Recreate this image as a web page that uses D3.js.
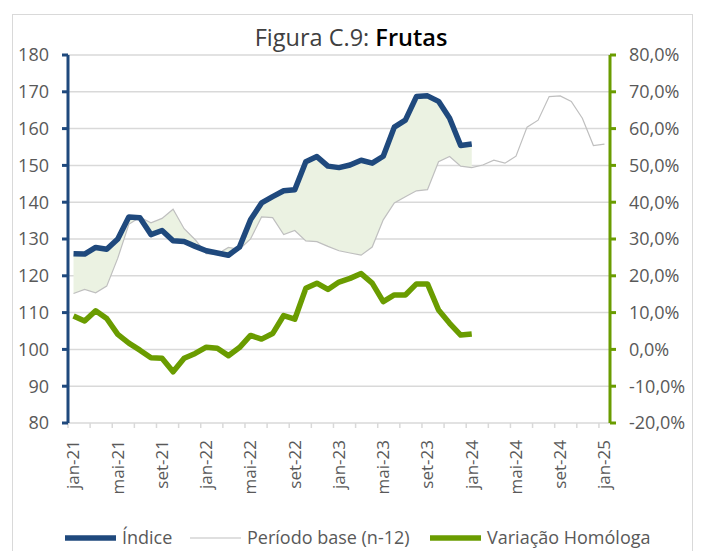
<!DOCTYPE html>
<html>
<head>
<meta charset="utf-8">
<script src="https://cdn.jsdelivr.net/npm/d3@7"></script>
<style>
  body { margin: 0; background: #fff; }
  svg { display: block; font-family: "Open Sans", sans-serif; }
</style>
</head>
<body>
<div id="chart"></div>
<script>
// month labels and years on the category axis
const months = ["jan", "fev", "mar", "abr", "mai", "jun", "jul", "ago", "set", "out", "nov", "dez"];
const years = ["21", "22", "23", "24", "25"];

// Índice (jan-21 .. jan-24)
const indice = [126.0, 125.9, 127.7, 127.2, 130.0, 136.0, 135.8, 131.2, 132.3, 129.5, 129.3, 128.0,
  126.8, 126.2, 125.6, 127.8, 135.2, 139.8, 141.5, 143.1, 143.4, 151.0, 152.4, 149.8,
  149.4, 150.1, 151.4, 150.6, 152.5, 160.4, 162.3, 168.7, 168.9, 167.4, 162.8, 155.4,
  155.8];

// Período base (n-12), jan-21 .. jan-25
const periodoBase = [115.2, 116.3, 115.4, 117.2, 124.8, 134.0, 135.9, 134.4, 135.6, 138.1, 132.8, 129.8,
  126.0, 125.9, 127.7, 127.2, 130.0, 136.0, 135.8, 131.2, 132.3, 129.5, 129.3, 128.0,
  126.8, 126.2, 125.6, 127.8, 135.2, 139.8, 141.5, 143.1, 143.4, 151.0, 152.4, 149.8,
  149.4, 150.1, 151.4, 150.6, 152.5, 160.4, 162.3, 168.7, 168.9, 167.4, 162.8, 155.4,
  155.8];

// Variação homóloga (%), jan-21 .. jan-24
const variacao = [9.1, 7.7, 10.5, 8.4, 4.1, 1.7, -0.2, -2.3, -2.4, -6.1, -2.4, -1.1,
  0.6, 0.3, -1.7, 0.5, 3.8, 2.8, 4.3, 9.2, 8.2, 16.6, 18.0, 16.3,
  18.3, 19.3, 20.6, 18.0, 13.0, 14.8, 14.8, 17.8, 17.8, 10.7, 7.1, 3.9,
  4.2];

const leftTicks = [80, 90, 100, 110, 120, 130, 140, 150, 160, 170, 180];
const rightTicks = [-20, -10, 0, 10, 20, 30, 40, 50, 60, 70, 80];

const categories = [];
years.forEach(function (y) {
  months.forEach(function (m) { categories.push(m + "-" + y); });
});
categories.length = 49; // jan-21 .. jan-25

const width = 706, height = 551;
const m = { left: 68, right: 610, top: 55, bottom: 423 };
const blue = "#1f497d", green = "#6a9c00", grey = "#bfbfbf", textCol = "#595959";

const svg = d3.select("#chart").append("svg")
  .attr("width", width).attr("height", height);

// outer border
svg.append("rect")
  .attr("x", 12.5).attr("y", 14.5).attr("width", 680).attr("height", 560)
  .attr("fill", "none").attr("stroke", "#d9d9d9").attr("stroke-width", 1);

// title
const title = svg.append("text")
  .attr("x", 351).attr("y", 46)
  .attr("text-anchor", "middle")
  .style("font-size", "23.5px");
title.append("tspan").attr("fill", "#404040").text("Figura C.9: ");
title.append("tspan").attr("fill", "#000").attr("font-weight", "600").text("Frutas");

const x = d3.scaleBand().domain(categories).range([m.left, m.right]).padding(0);
const cx = function (i) { return x(categories[i]) + x.bandwidth() / 2; };
const y = d3.scaleLinear().domain([80, 180]).range([m.bottom, m.top]);
const y2 = d3.scaleLinear().domain([-20, 80]).range([m.bottom, m.top]);

// gridlines
svg.append("g").selectAll("line")
  .data(leftTicks.slice(1))
  .join("line")
  .attr("x1", m.left).attr("x2", m.right)
  .attr("y1", function (d) { return y(d); }).attr("y2", function (d) { return y(d); })
  .attr("stroke", "#d9d9d9").attr("stroke-width", 1.5);

// shaded area between índice and base
const area = d3.area()
  .x(function (d, i) { return cx(i); })
  .y0(function (d, i) { return y(periodoBase[i]); })
  .y1(function (d) { return y(d); });
svg.append("path")
  .datum(indice)
  .attr("d", area)
  .attr("fill", "#ebf2e2");

// x axis line and ticks
svg.append("line")
  .attr("x1", m.left).attr("x2", m.right)
  .attr("y1", m.bottom).attr("y2", m.bottom)
  .attr("stroke", "#d9d9d9").attr("stroke-width", 1.5);
svg.append("g").selectAll("line")
  .data(categories.filter(function (d, i) { return i % 2 === 0; }))
  .join("line")
  .attr("x1", function (d) { return x(d); }).attr("x2", function (d) { return x(d); })
  .attr("y1", m.bottom).attr("y2", m.bottom + 5)
  .attr("stroke", "#d9d9d9").attr("stroke-width", 1.5);
svg.append("g").selectAll("text")
  .data(categories.filter(function (d, i) { return i % 4 === 0; }))
  .join("text")
  .attr("transform", function (d) {
    return "translate(" + (x(d) + x.bandwidth() / 2) + "," + 440 + ") rotate(-90)";
  })
  .attr("text-anchor", "end")
  .attr("dy", "0.35em")
  .attr("fill", textCol)
  .style("font-size", "17px")
  .text(function (d) { return d; });

// base line
const lineBase = d3.line()
  .x(function (d, i) { return cx(i); })
  .y(function (d) { return y(d); });
svg.append("path")
  .datum(periodoBase)
  .attr("d", lineBase)
  .attr("fill", "none").attr("stroke", grey).attr("stroke-width", 1.2);

// índice line
svg.append("path")
  .datum(indice)
  .attr("d", lineBase)
  .attr("fill", "none").attr("stroke", blue).attr("stroke-width", 5.5)
  .attr("stroke-linejoin", "round");

// variação line (right axis)
const lineVar = d3.line()
  .x(function (d, i) { return cx(i); })
  .y(function (d) { return y2(d); });
svg.append("path")
  .datum(variacao)
  .attr("d", lineVar)
  .attr("fill", "none").attr("stroke", green).attr("stroke-width", 5.5)
  .attr("stroke-linejoin", "round");

// left axis
svg.append("line")
  .attr("x1", m.left).attr("x2", m.left)
  .attr("y1", m.top).attr("y2", m.bottom)
  .attr("stroke", blue).attr("stroke-width", 3);
svg.append("g").selectAll("line")
  .data(leftTicks)
  .join("line")
  .attr("x1", m.left - 6).attr("x2", m.left)
  .attr("y1", function (d) { return y(d); }).attr("y2", function (d) { return y(d); })
  .attr("stroke", blue).attr("stroke-width", 3);
svg.append("g").selectAll("text")
  .data(leftTicks)
  .join("text")
  .attr("x", 49).attr("y", function (d) { return y(d); })
  .attr("dy", "0.35em")
  .attr("text-anchor", "end")
  .attr("fill", textCol)
  .style("font-size", "18px")
  .text(function (d) { return d; });

// right axis
svg.append("line")
  .attr("x1", m.right).attr("x2", m.right)
  .attr("y1", m.top).attr("y2", m.bottom)
  .attr("stroke", green).attr("stroke-width", 3);
svg.append("g").selectAll("line")
  .data(rightTicks)
  .join("line")
  .attr("x1", m.right).attr("x2", m.right + 6)
  .attr("y1", function (d) { return y2(d); }).attr("y2", function (d) { return y2(d); })
  .attr("stroke", green).attr("stroke-width", 3);
svg.append("g").selectAll("text")
  .data(rightTicks)
  .join("text")
  .attr("x", 629).attr("y", function (d) { return y2(d); })
  .attr("dy", "0.35em")
  .attr("fill", textCol)
  .style("font-size", "18px")
  .text(function (d) { return d.toFixed(1).replace(".", ",") + "%"; });

// legend
const legendItems = [
  { label: "Índice", color: blue, w: 5.5, x: 65 },
  { label: "Período base (n-12)", color: grey, w: 1.2, x: 190 },
  { label: "Variação Homóloga", color: green, w: 5.5, x: 430 }
];
const legend = svg.append("g").selectAll("g")
  .data(legendItems)
  .join("g")
  .attr("transform", function (d) { return "translate(" + d.x + ",538)"; });
legend.append("line")
  .attr("x1", 0).attr("x2", 51)
  .attr("stroke", function (d) { return d.color; })
  .attr("stroke-width", function (d) { return d.w; });
legend.append("text")
  .attr("x", 57).attr("y", 0)
  .attr("dy", "0.35em")
  .attr("fill", textCol)
  .style("font-size", "18px")
  .text(function (d) { return d.label; });
</script>
</body>
</html>
